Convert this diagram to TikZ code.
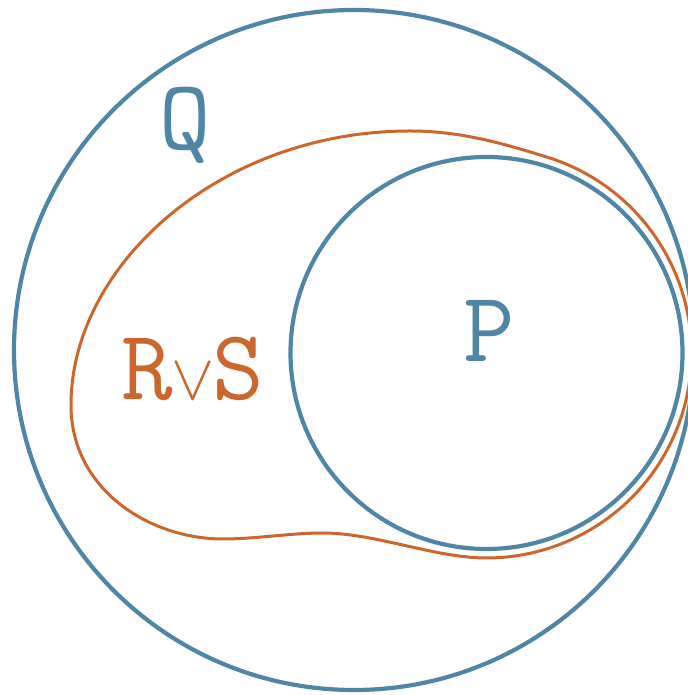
\documentclass[tikz,border=0pt]{standalone}
\usepackage{fontspec}
\definecolor{setblue}{RGB}{80,134,165}
\definecolor{setorange}{RGB}{204,102,44}
\tikzset{
  setline/.style={line width=2.1pt, setblue},
  unionline/.style={line width=1.5pt, setorange},
  setlabel/.style={anchor=base, inner sep=0pt, font=\ttfamily\fontsize{50}{50}\selectfont}
}
\begin{document}
\begin{tikzpicture}[x=0.5pt, y=0.5pt]
    % Fix the frame of the picture
    \useasboundingbox (0,0) rectangle (687,695);

    % Draw the outer set Q and the inner set P
    \draw[setline] (354,345) circle (340);
    \draw[setline] (486.5,342) circle (196);

    % Draw the region R or S round P
    \draw[unionline] (549.8,537) arc[start angle=72, end angle=-90, radius=205]
        .. controls (435,137) and (375,162) .. (323,162)
        .. controls (290,162) and (256,156) .. (223,156)
        .. controls (150,156) and (71,205) .. (71,290)
        .. controls (71,430) and (220,564) .. (410,564)
        .. controls (460,564) and (502,552) .. (549.8,537) -- cycle;

    % Label the sets
    \node[setlabel, setblue] (labelQ) at (185,545) {Q};
    \node[setlabel, setblue] (labelP) at (489,333) {P};
    \node[setlabel, setorange] (labelRS) at (193,295) {R\kern-1pt\scalebox{1.3}{$\vee$}\kern-1pt S};
\end{tikzpicture}
\end{document}
